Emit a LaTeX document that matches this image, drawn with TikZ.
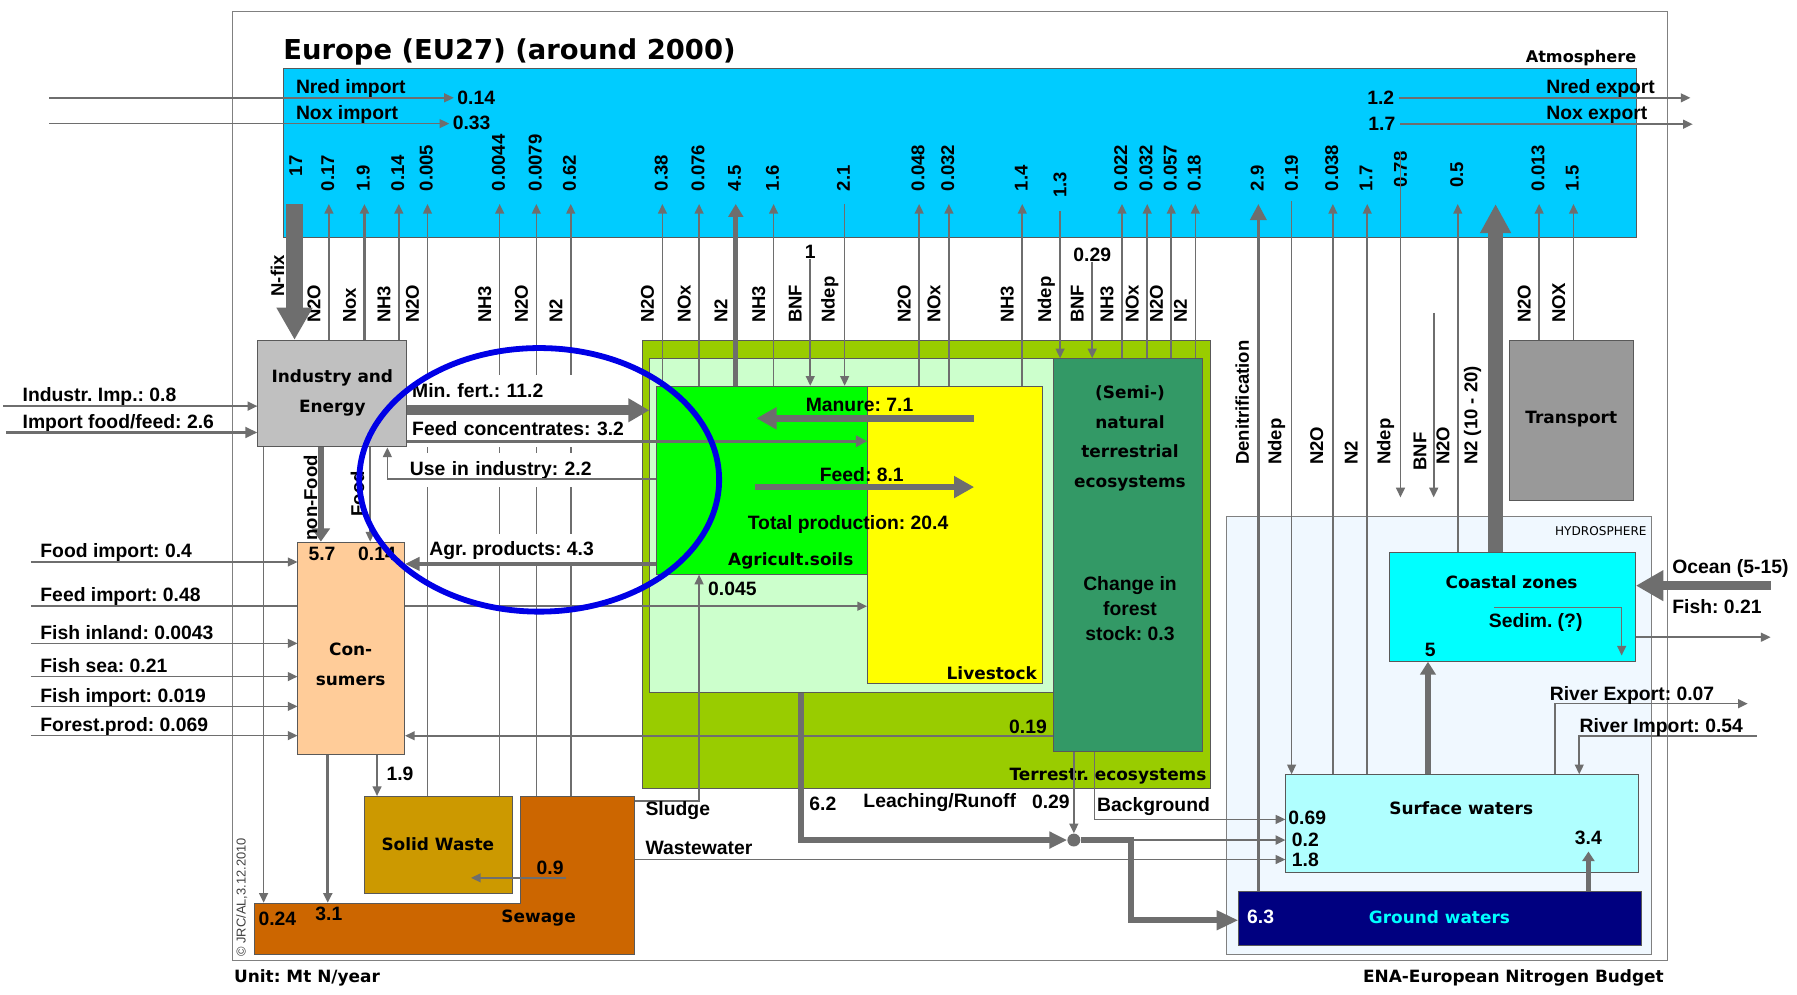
\documentclass[tikz,border=0pt]{standalone}
\usepackage{fontspec}
\setmainfont{Liberation Sans}
\newfontfamily\comic{DejaVu Sans}
\usetikzlibrary{arrows.meta,fit}
\frenchspacing

\definecolor{flowgray}{HTML}{6E6E6E}
\definecolor{atmblue}{HTML}{00CCFF}
\definecolor{indgray}{HTML}{C0C0C0}
\definecolor{conpeach}{HTML}{FFCC99}
\definecolor{terrgreen}{HTML}{99CC00}
\definecolor{palegreen}{HTML}{CCFFCC}
\definecolor{agrigreen}{HTML}{00FF00}
\definecolor{liveyellow}{HTML}{FFFF00}
\definecolor{semigreen}{HTML}{339966}
\definecolor{hydroblue}{HTML}{F0F8FF}
\definecolor{coastcyan}{HTML}{00FFFF}
\definecolor{surfcyan}{HTML}{B0FFFF}
\definecolor{groundnavy}{HTML}{000080}
\definecolor{transgray}{HTML}{999999}
\definecolor{solidbrown}{HTML}{CC9900}
\definecolor{sewageorange}{HTML}{CC6600}
\definecolor{ringblue}{HTML}{0000E6}

\newcommand\lblfont{\bfseries\fontsize{12}{15}\selectfont}
\newcommand\rotfont{\bfseries\fontsize{11.5}{13}\selectfont}
\newcommand\boxfont{\comic\bfseries\fontsize{10.5}{18.5}\selectfont}

\tikzset{
  area/.style={draw=black!65, line width=0.6pt, inner sep=0pt},
  flow/.style={draw=flowgray, line width=1pt, -{Triangle[length=6pt,width=5.5pt]}},
  flowmid/.style={draw=flowgray, line width=2pt, -{Triangle[length=7pt,width=7pt]}},
  flowbig/.style={draw=flowgray, line width=4pt, -{Triangle[length=12.5pt,width=13pt]}},
  flowhuge/.style={draw=flowgray, line width=10pt, -{Triangle[length=20pt,width=21pt]}},
  vlab/.style={rotate=90, anchor=west, inner sep=0pt, font=\rotfont},
  lab/.style={inner sep=0pt, font=\lblfont, text height=9pt, text depth=2.5pt},
  boxlab/.style={font=\boxfont, align=center, inner sep=0pt},
  whitelab/.style={lab, fill=white, inner xsep=1pt, inner ysep=5pt, align=left},
}

\begin{document}
\begin{tikzpicture}[x=0.025cm, y=-0.025cm, every node/.style={inner sep=0pt, font=\lblfont}]
\useasboundingbox (0,0) rectangle (1568,868);
\fill[white] (0,0) rectangle (1568,868);
\draw[gray, line width=0.8pt] (203,10) rectangle (1455,838);

\node[font=\comic\bfseries\fontsize{17}{20}\selectfont, anchor=west] (title) at (247,45) {Europe (EU27) (around 2000)};
\node[boxlab, font=\comic\bfseries\fontsize{10}{12}\selectfont, anchor=east] (atmname) at (1428,51) {Atmosphere};

\node[area, fill=atmblue, fit={(247,60) (1428,207)}] (atm) {};
\coordinate (atmlvl) at (0,178);
\node[area, draw=gray, fill=hydroblue, fit={(1070,451) (1441,833)}] (hydro) {};
\node[area, fill=terrgreen, fit={(561,297) (1056,688)}] (terr) {};
\node[area, fill=palegreen, fit={(567,313) (919,604)}] (pale) {};
\node[area, fill=agrigreen, fit={(573,337) (757,501)}] (agri) {};
\node[area, fill=liveyellow, fit={(757,337) (910,596)}] (live) {};
\node[area, fill=semigreen, fit={(919,313) (1049,656)}] (semi) {};

\node[lab, anchor=west] (feedimp) at (35,520.6) {Feed import: 0.48};
\draw[flow] ([xshift=-5.7pt]feedimp.south west) -- (live.west |- feedimp.south);

\node[area, fill=indgray, fit={(225,297) (355,390)}] (ind) {};
\node[area, fill=conpeach, fit={(260,473) (353,658)}] (cons) {};
\node[area, fill=solidbrown, fit={(318,695) (447,780)}] (solid) {};
\filldraw[area, fill=sewageorange] (222,788) -- (454,788) -- (454,695) -- (554,695) -- (554,833) -- (222,833) -- cycle;
\node[fit={(454,695) (554,833)}] (sew) {};
\node[fit={(222,788) (554,833)}] (sewlow) {};
\node[area, fill=transgray, fit={(1317,297) (1425,437)}] (trans) {};
\node[area, fill=coastcyan, fit={(1212,482) (1427,577)}] (coast) {};
\node[area, fill=surfcyan, fit={(1122,676) (1430,761)}] (surf) {};
\node[area, fill=groundnavy, fit={(1081,778) (1432,825)}] (ground) {};

\node[boxlab] (indname) at (290,343) {Industry and\\Energy};
\node[boxlab] (consname) at (306,579.5) {Con-\\sumers};
\node[boxlab] (solidname) at (382,737) {Solid Waste};
\node[boxlab] (sewname) at (470,801) {Sewage};
\node[boxlab] (transname) at (1371,366) {Transport};
\node[boxlab] (coastname) at (1319,508) {Coastal zones};
\node[boxlab] (surfname) at (1275,705) {Surface waters};
\node[boxlab, text=coastcyan] (groundname) at (1256,800) {Ground waters};
\node[boxlab] (agriname) at (690,489) {Agricult.soils};
\node[boxlab, anchor=east] (livename) at (905,587) {Livestock};
\node[boxlab] (seminame) at (986,382.5) {(Semi-)\\natural\\terrestrial\\ecosystems};
\node[boxlab, anchor=east] (terrname) at (1053,677) {Terrestr. ecosystems};
\node[font=\comic\fontsize{7.5}{9}\selectfont, anchor=east] (hydroname) at (1437,463) {HYDROSPHERE};
\node[boxlab, anchor=west] (unit) at (204,853) {Unit: Mt N/year};
\node[boxlab, anchor=east] (ena) at (1452,853) {ENA-European Nitrogen Budget};
\node[vlab, font=\fontsize{8}{9}\selectfont, text=black!75] (copy) at (211,835) {© JRC/AL,3.12.2010};

% atmosphere exchange
\node[lab, anchor=west] (nredin) at (258,77) {Nred import};
\node[lab, anchor=west] (noxin) at (258,99.5) {Nox import};
\node[lab, anchor=west, inner xsep=2pt] (vnredin) at (396,87) {0.14};
\node[lab, anchor=west, inner xsep=2pt] (vnoxin) at (392,108.5) {0.33};
\draw[flow] (43,0 |- nredin.south) -- (vnredin.west |- nredin.south);
\draw[flow] (43,0 |- noxin.south) -- (vnoxin.west |- noxin.south);
\node[lab, anchor=east, inner xsep=3pt] (vnredout) at (1221,87) {1.2};
\node[lab, anchor=east, inner xsep=3pt] (vnoxout) at (1222,109) {1.7};
\node[lab, anchor=west] (nredout) at (1349,77) {Nred export};
\node[lab, anchor=west] (noxout) at (1349,100) {Nox export};
\draw[flow] (vnredout.east |- nredout.south) -- (1475,0 |- nredout.south);
\draw[flow] (vnoxout.east |- noxout.south) -- (1477,0 |- noxout.south);

% emissions to the atmosphere
\foreach \x/\v/\b in {287/0.17/ind, 348/0.14/ind, 373/0.005/solid, 436/0.0044/solid, 468/0.0079/sew, 498/0.62/sew, 578/0.38/agri, 610/0.076/agri, 675/1.6/agri, 802/0.048/live, 828/0.032/live, 892/1.4/live, 979/0.022/semi, 1001/0.032/semi, 1022/0.057/semi, 1043/0.18/semi, 1163/0.038/surf, 1193/1.7/surf, 1343/0.013/trans, 1373/1.5/trans}{
  \draw[flow] (\x,0 |- \b.north) -- (\x,0 |- atmlvl);
  \node[vlab] (v\x) at (\x-1,167) {\v};
}
\foreach \x/\g in {287/N2O, 318/Nox, 348/NH3, 373/N2O, 436/NH3, 468/N2O, 498/N2, 578/N2O, 610/NOx, 642/N2, 675/NH3, 707/BNF, 737/Ndep, 802/N2O, 828/NOx, 892/NH3, 926/Ndep, 953/BNF, 979/NH3, 1001/NOx, 1022/N2O, 1043/N2, 1343/N2O, 1373/NOX}
  \node[vlab] (g\x) at (\x-13,282) {\g};
\foreach \x/\g in {1098/Denitrification, 1128/Ndep, 1163/N2O, 1193/N2, 1223/Ndep}
  \node[vlab] (h\x) at (\x-14,406) {\g};
\node[vlab] (h1239) at (1239,411) {BNF};
\node[vlab] (h1259) at (1259,406) {N2O};
\node[vlab] (h1285) at (1285,406) {N2 (10 - 20)};

\draw[flow, line width=1.6pt] (318,0 |- ind.north) -- (318,0 |- atmlvl);
\node[vlab] (v318) at (317,167) {1.9};
\draw[flowhuge] (257,0 |- atmlvl) -- (257,0 |- ind.north);
\node[vlab] (v257) at (258,154) {17};
\node[vlab] (nfix) at (242,259) {N-fix};
\draw[flow, line width=3pt, -{Triangle[length=8pt,width=9pt]}] (642,0 |- agri.north) -- (642,0 |- atmlvl);
\node[vlab] (v642) at (641,167) {4.5};
\node (v707) at (707,220) {1};
\draw[flow] (v707.south) -- (707,0 |- agri.north);
\node[vlab] (v737) at (736,167) {2.1};
\draw[flow] (737,0 |- atmlvl) -- (737,0 |- agri.north);
\node[vlab] (v926) at (925,173) {1.3};
\draw[flow] ([yshift=-8pt]v926.west) -- (v926.west |- semi.north);
\node (v953) at (953,222) {0.29};
\draw[flow] (v953.south) -- (953,0 |- semi.north);

\node[vlab] (v1098) at (1097,167) {2.9};
\draw[flow, line width=2.2pt, -{Triangle[length=10pt,width=10pt]}] (1098,0 |- ground.north) -- (1098,0 |- atmlvl);
\node[vlab] (v1128) at (1127,167) {0.19};
\draw[flow] ([yshift=-6pt]v1128.west) -- (v1128.west |- surf.north);
\coordinate (hydtop) at (0,434);
\node[vlab] (v1223) at (1222,164) {0.78};
\draw[flow] (v1223.east) -- (v1223.east |- hydtop);
\coordinate (bnfstart) at (1251,273);
\draw[flow] (bnfstart) -- (bnfstart |- hydtop);
\node[vlab] (v1272) at (1271,164) {0.5};
\draw[flow] (1272,0 |- coast.north) -- (1272,0 |- atmlvl);
\draw[flowhuge, line width=9pt, -{Triangle[length=18pt,width=18pt]}] (1305,0 |- coast.north) -- (1305,0 |- atmlvl);

% industry and consumers
\node[lab, anchor=west] (indimp) at (19.5,346) {Industr. Imp.: 0.8};
\draw[flow] ([xshift=-12pt]indimp.south west) -- (ind.west |- indimp.south);
\node[lab, anchor=west] (foodfeed) at (19.5,369) {Import food/feed: 2.6};
\draw[flow, line width=1.7pt, -{Triangle[length=7.5pt,width=6.6pt]}] ([xshift=-10pt]foodfeed.south west) -- (ind.west |- foodfeed.south);

\node[whitelab, anchor=west, text width=136pt] (minfert) at (358,342) {Min. fert.: 11.2};
\node[whitelab, anchor=west, text width=136pt] (feedconc) at (358,375) {Feed concentrates: 3.2};
\node[whitelab, anchor=west, text width=136pt] (useind) at (356,410) {Use in industry: 2.2};
\draw[flowbig, line width=6pt, -{Triangle[length=13pt,width=14pt]}] (ind.east |- 0,358) -- (pale.west |- 0,358);
\draw[flowmid] (ind.east |- 0,385) -- (live.west |- 0,385);
\draw[flow] (agri.west |- 0,418) -| (338,0 |- ind.south);

\node[whitelab, inner ysep=4pt, anchor=west] (agrprod) at (373,480) {Agr. products: 4.3};
\draw[flow, line width=2.8pt, -{Triangle[length=9pt,width=8pt]}] (agri.west |- 0,492) -- (cons.east |- 0,492);

\draw[flowbig, -{Triangle[length=8.2pt,width=11pt]}] (280,0 |- ind.south) -- (280,0 |- cons.north);
\node[vlab] (nonfood) at (271,472) {non-Food};
\draw[flow] (323,0 |- ind.south) -- (323,0 |- cons.north);
\node[vlab] (food) at (312,451) {Food};
\draw[flow] (230,0 |- ind.south) -- (230,0 |- sewlow.north);
\node (v024) at (242,802) {0.24};

\foreach \n/\t/\y in {foodimp/Food import: 0.4/482, fishin/Fish inland: 0.0043/553, fishsea/Fish sea: 0.21/582, fishimp/Fish import: 0.019/608, forest/Forest.prod: 0.069/633.5}{
  \node[lab, anchor=west] (\n) at (35,\y) {\t};
  \draw[flow] ([xshift=-5.7pt]\n.south west) -- (cons.west |- \n.south);
}
\node (v57) at (281,483) {5.7};
\node (v014c) at (329,483) {0.14};

\draw[flow, line width=1.8pt] (286,0 |- cons.south) -- (286,0 |- sewlow.north);
\node (v31) at (287,797) {3.1};
\draw[flow] (329,0 |- cons.south) -- (329,0 |- solid.north);
\node (v19c) at (349,675) {1.9};
\draw[flow] (494,766) -- (411,766);
\node (v09) at (480,757) {0.9};

% agriculture
\draw[flowbig] (850,365) -- (660,365);
\node (manure) at (750,353) {Manure: 7.1};
\draw[flowbig] (659,425) -- (850,425);
\node (feed) at (752,414) {Feed: 8.1};
\node (totprod) at (740,458) {Total production: 20.4};
\node[align=center, font=\bfseries\fontsize{12}{15.6}\selectfont] (forest) at (986,531) {Change in\\forest\\stock: 0.3};

\draw[flow] (sew.east |- 0,699) -| (610,0 |- agri.south);
\node (v0045) at (639,514) {0.045};
\node[anchor=west] (sludge) at (563,707) {Sludge};
\draw[flow] (semi.west |- 0,642) -- (cons.east |- 0,642);
\node (v019) at (897,634) {0.19};

% leaching and waters
\node[circle, fill=flowgray, minimum size=8pt] (jn) at (937,733) {};
\draw[flowbig, -{Triangle[length=11pt,width=10pt]}] (699,0 |- pale.south) |- (jn.west);
\node (v62) at (718,701) {6.2};
\node (leach) at (820,700) {Leaching/Runoff};
\node (v029b) at (917,700) {0.29};
\draw[flow] (937,0 |- semi.south) -- (jn.north);
\draw[flow] (955,0 |- semi.south) |- (surf.west |- 0,715);
\node[anchor=west] (backgr) at (957,704) {Background};
\draw[flow, line width=1.5pt] (jn.east) -- (surf.west |- jn.east);
\draw[flowbig, line width=3.7pt, -{Triangle[length=13.5pt,width=11.5pt]}] (jn.east) -- (987,0 |- jn.east) |- (ground.west |- 0,803);
\draw[flow] (sew.east |- 0,750) -- (surf.west |- 0,750);
\node[anchor=west] (wastew) at (563,740) {Wastewater};
\node[anchor=west] (v069) at (1124,714) {0.69};
\node[anchor=west] (v02) at (1127,733) {0.2};
\node[anchor=west] (v18) at (1127,750) {1.8};
\draw[flow, line width=3pt, -{Triangle[length=6pt,width=7.5pt]}] (1386,0 |- ground.north) -- (1386,743);
\node (v34) at (1386,731) {3.4};
\node[text=white] (v63) at (1100,800) {6.3};

\draw[flow, line width=3.8pt, -{Triangle[length=8pt,width=9.5pt]}] (1246,0 |- surf.north) -- (1246,0 |- coast.south);
\node (v5) at (1248,567) {5};
\draw[flow] (1304,530) -| (1415,572);
\node (sedim) at (1340,543) {Sedim. (?)};
\draw[flowbig, line width=6pt, -{Triangle[length=17pt,width=18pt]}] (1545,511) -- (coast.east |- 0,511);
\node[anchor=west] (ocean) at (1459,496) {Ocean (5-15)};
\draw[flow] (coast.east |- 0,556) -- (1545,556);
\node[anchor=west] (fish) at (1459,529) {Fish: 0.21};
\draw[flow] (1357,0 |- surf.north) |- (1525,614);
\node[anchor=west] (rivexp) at (1352,607) {River Export: 0.07};
\draw[flow] (1533,642) -| (1378,0 |- surf.north);
\node[anchor=west] (rivimp) at (1378,635) {River Import: 0.54};

\draw[ringblue, line width=3.6pt] (470.5,418.7) ellipse [x radius=157, y radius=115];
\end{tikzpicture}
\end{document}
